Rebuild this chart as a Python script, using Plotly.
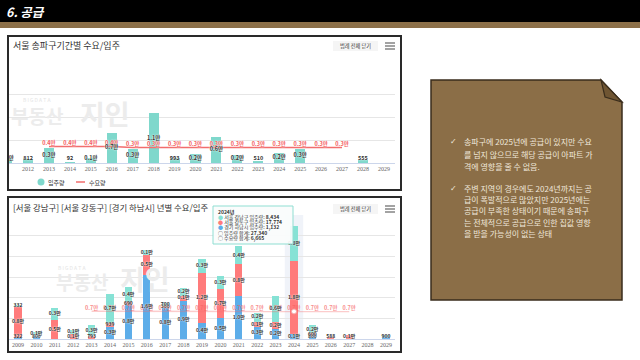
import plotly.graph_objects as go

# ---------------- data ----------------
years1 = list(range(2011, 2030))
supply1 = [1200, 812, 3300, 92, 1000, 6600, 3100, 10900, 993, 2000, 5700, 1800, 510, 2200, 3100, None, None, 555, None]
demand_years1 = list(range(2013, 2028))
demand1 = [3600, 3600, 3600, 3600, 3400, 3400, 3400, 3400, 3400, 3400, 3400, 3400, 3400, 3400, 3400]

years2 = list(range(2009, 2030))
hanam = [322, 800, 0, 0, 0, 2900, 8300, 15500, 7700, 9300, 3900, 5100, 10300, 2900, 2400, 1132, 800, 0, 0, 0, 900]
gangdong = [7500, 0, 4600, 1200, 793, 939, 690, 4800, 300, 1200, 12100, 7100, 7800, 1300, 1600, 17774, 600, 588, 1000, 0, 0]
gangnam = [332, 1000, 2900, 1000, 2600, 7100, 3600, 1200, 700, 1800, 3400, 3000, 4300, 2200, 6400, 8434, 1900, 0, 0, 0, 0]
demand_years2 = list(range(2013, 2028))
demand2 = [6700, 6690, 6680, 6680, 6670, 6670, 6665, 6665, 6665, 6665, 6665, 6665, 6650, 6640, 6630]

notes1 = ["송파구에 2025년에 공급이 있지만 수요",
          "를 넘지 않으므로 해당 공급이 아파트 가",
          "격에 영향을 줄 수 없음."]
notes2 = ["주변 지역의 경우에도 2024년까지는 공",
          "급이 폭발적으로 많았지만 2025년에는",
          "공급이 부족한 상태이기 때문에 송파구",
          "는 전체적으로 공급으로 인한 집값 영향",
          "을 받을 가능성이 없는 상태"]

# ---------------- helpers ----------------
W, H = 640, 360
def X(p): return p / W
def Y(p): return 1 - p / H
def P(x, y): return f"{X(x):.5f},{Y(y):.5f}"
def fmt(v):
    return f"{v/10000:.1f}만" if v >= 1000 else f"{v:,}"

FONT = "Noto Sans CJK KR"
TEAL1 = "#7fd8cc"
TEAL2 = "#86e2d5"
RED = "#ff7b7b"
BLUE = "#5dade9"
OUT = "0px 0px 2px #ffffff, 0px 0px 1px #ffffff"

fig = go.Figure()

# ---------------- chart 1 ----------------
fig.add_trace(go.Bar(x=years1, y=supply1, width=0.48, marker_color=TEAL1,
                     marker_line_width=0, xaxis="x", yaxis="y", showlegend=False))
fig.add_trace(go.Scatter(x=demand_years1, y=demand1, mode="lines+text",
                         line=dict(color="#f26d6d", width=1.5),
                         text=[fmt(v) for v in demand1], textposition="top center",
                         textfont=dict(size=5.5, color="#f45b5b", weight="bold", shadow=OUT),
                         xaxis="x", yaxis="y", showlegend=False))
lx = [y for y, v in zip(years1, supply1) if v]
ly = [max(v / 2, 900) for v in supply1 if v]
lt = [fmt(v) for v in supply1 if v]
fig.add_trace(go.Scatter(x=lx, y=ly, mode="text", text=lt,
                         textfont=dict(size=5.5, color="#333333", weight="bold", shadow=OUT),
                         xaxis="x", yaxis="y", showlegend=False, cliponaxis=True))

# ---------------- chart 2 ----------------
for vals, col in [(hanam, BLUE), (gangdong, RED), (gangnam, TEAL2)]:
    fig.add_trace(go.Bar(x=years2, y=vals, width=0.4, marker_color=col, marker_line_width=0,
                         xaxis="x2", yaxis="y2", showlegend=False))
fig.add_trace(go.Scatter(x=demand_years2, y=demand2, mode="lines+text",
                         line=dict(color="rgba(245,110,110,0.35)", width=1.5),
                         text=[fmt(v) for v in demand2], textposition="top center",
                         textfont=dict(size=5.5, color="rgba(245,100,100,0.75)", weight="bold"),
                         xaxis="x2", yaxis="y2", showlegend=False))
i24 = years2.index(2024)
d24 = demand2[demand_years2.index(2024)]
fig.add_trace(go.Scatter(x=[2024], y=[d24], mode="markers",
                         marker=dict(size=5, color="white", line=dict(color="#f5a0a0", width=1)),
                         xaxis="x2", yaxis="y2", showlegend=False))
sx, sy, st = [], [], []
for i, yr in enumerate(years2):
    base = 0
    for vals in (hanam, gangdong, gangnam):
        v = vals[i]
        if v > 0:
            sx.append(yr)
            sy.append(max(base + v / 2, 600))
            st.append(fmt(v))
        base += v
fig.add_trace(go.Scatter(x=sx, y=sy, mode="text", text=st,
                         textfont=dict(size=5, color="#333333", weight="bold", shadow=OUT),
                         xaxis="x2", yaxis="y2", showlegend=False))

# ---------------- axes ----------------
tick_font = dict(size=6, color="#666666", family="Liberation Serif")
common_x = dict(showgrid=False, showline=True, linecolor="#ccd6eb", linewidth=1,
                ticks="", tickfont=tick_font, zeroline=False, fixedrange=True)
common_y = dict(showgrid=True, gridcolor="#e6e6e6", gridwidth=1, dtick=5000,
                showticklabels=False, zeroline=False, showline=False)
fig.update_layout(
    xaxis=dict(domain=[X(9), X(395)], anchor="y", range=[2011.09, 2029.53],
               tickvals=years1, ticktext=[str(y) for y in years1], **common_x),
    yaxis=dict(domain=[Y(163), Y(72)], anchor="x", range=[0, 20000], **common_y),
    xaxis2=dict(domain=[X(9), X(395)], anchor="y2", range=[2008.51, 2029.49],
                tickvals=years2, ticktext=[str(y) for y in years2], **common_x),
    yaxis2=dict(domain=[Y(339), Y(215)], anchor="x2", range=[0, 30000], **common_y),
)

# ---------------- shapes ----------------
shapes = []
def rect(x0, y0, x1, y1, fill, line=None, lw=0, layer="below"):
    shapes.append(dict(type="rect", xref="paper", yref="paper", x0=X(x0), x1=X(x1),
                       y0=Y(y1), y1=Y(y0), fillcolor=fill,
                       line=dict(color=line or fill, width=lw), layer=layer))
def hline(x0, x1, y, color, w=1, layer="above"):
    shapes.append(dict(type="line", xref="paper", yref="paper", x0=X(x0), x1=X(x1),
                       y0=Y(y), y1=Y(y), line=dict(color=color, width=w), layer=layer))

# header
rect(0, 0, 640, 22, "#000000")
rect(0, 22, 640, 28, "#8c7049")
# chart boxes
for (y0, y1) in [(36, 190), (197, 352)]:
    shapes.append(dict(type="rect", xref="paper", yref="paper", x0=X(8), x1=X(401),
                       y0=Y(y1), y1=Y(y0), fillcolor="rgba(0,0,0,0)",
                       line=dict(color="#2a2a2a", width=2), layer="above"))
# 2024 highlight band
shapes.append(dict(type="rect", xref="x2", yref="y2 domain", x0=2023.5, x1=2024.5,
                   y0=0, y1=1, fillcolor="rgba(204,214,235,0.3)", line=dict(width=0), layer="below"))
# menu buttons
for yb in (46, 209):
    rect(333, yb - 5, 378, yb + 5, "#f5f5f5", layer="above")
    for dy in (-3, 0, 3):
        hline(385, 395, yb + dy, "#666666", 1.2)
# legend chart 1
shapes.append(dict(type="circle", xref="paper", yref="paper", x0=X(37.5), x1=X(44.5),
                   y0=Y(185.5), y1=Y(178.5), fillcolor=TEAL1, line=dict(width=0)))
hline(76, 85, 182, "#f26d6d", 1.5)
# tooltip box
shapes.append(dict(type="rect", xref="paper", yref="paper", x0=X(213), x1=X(293),
                   y0=Y(244), y1=Y(206), fillcolor="rgba(250,252,252,0.93)",
                   line=dict(color="#8fded2", width=1), layer="above"))
# note box
shapes.append(dict(type="path", xref="paper", yref="paper",
                   path=f"M {P(431,80)} L {P(601,80)} L {P(622,102)} L {P(622,300)} L {P(431,300)} Z",
                   fillcolor="#8b6e47", line=dict(color="#3a2d1c", width=1.5), layer="below"))
shapes.append(dict(type="path", xref="paper", yref="paper",
                   path=f"M {P(601,80)} L {P(605,97)} L {P(622,102)} Z",
                   fillcolor="#6f5532", line=dict(color="#3a2d1c", width=1.2), layer="below"))

# ---------------- annotations ----------------
ann = []
def text(x, y, s, size, color="#333333", xanchor="left", **kw):
    ann.append(dict(xref="paper", yref="paper", x=X(x), y=Y(y), text=s, showarrow=False,
                    xanchor=xanchor, yanchor="middle", font=dict(size=size, color=color, family=kw.pop("family", FONT), **kw),
                    borderpad=0))

text(5, 12, "<b><i>6. 공급</i></b>", 12.5, "#ffffff")
# watermarks
for (bx, by, rx, ry, jx) in [(22, 99, 10, 116, 79), (57, 267, 55, 281, 119)]:
    text(bx, by, "B I G D A T A", 5, "#e4e4e4")
    text(rx, ry, "<b>부동산</b>", 19, "#ececec")
    text(jx, ry - 3, "<b>지인</b>", 27, "#ececec")
# titles
text(12, 45, "서울 송파구기간별 수요/입주", 9)
text(12, 207, "[서울 강남구] [서울 강동구] [경기 하남시] 년별 수요/입주", 8.4)
for yb in (46, 209):
    text(355.5, yb, "범례 전체 닫기", 5.2, "#333333", xanchor="center")
# legend chart 1
text(47, 182, "입주량", 6, "#333333")
text(88, 182, "수요량", 6, "#333333")
# tooltip
tot = hanam[i24] + gangdong[i24] + gangnam[i24]
tip = [f"<b>{years2[i24]}년</b>",
       f"<span style='color:{TEAL2}'>●</span> 서울 강남구 입주량: <b>{gangnam[i24]:,}</b>",
       f"<span style='color:{RED}'>●</span> 서울 강동구 입주량: <b>{gangdong[i24]:,}</b>",
       f"<span style='color:{BLUE}'>●</span> 경기 하남시 입주량: <b>{hanam[i24]:,}</b>",
       f"○ 입주량 합계: <b>{tot:,}</b>",
       f"○ 수요량 합계: <b>{d24:,}</b>"]
for k, s in enumerate(tip):
    text(217, 211.5 + k * 5.3, s, 5, "#333333")
# note text
NOTE_C = "#efe7da"
text(449, 142, "✓", 8, NOTE_C, family="DejaVu Sans")
for k, s in enumerate(notes1):
    text(463, 142 + k * 12.4, s, 8, NOTE_C)
text(449, 188, "✓", 8, NOTE_C, family="DejaVu Sans")
for k, s in enumerate(notes2):
    text(463, 188 + k * 11.4, s, 8, NOTE_C)

fig.update_layout(
    width=W, height=H, autosize=False,
    margin=dict(l=0, r=0, t=0, b=0, pad=0),
    paper_bgcolor="white", plot_bgcolor="rgba(0,0,0,0)",
    barmode="stack", bargap=0,
    font=dict(family=FONT, color="#333333"),
    shapes=shapes, annotations=ann, showlegend=False,
)

fig.write_html("out.html", config={"displayModeBar": False})
